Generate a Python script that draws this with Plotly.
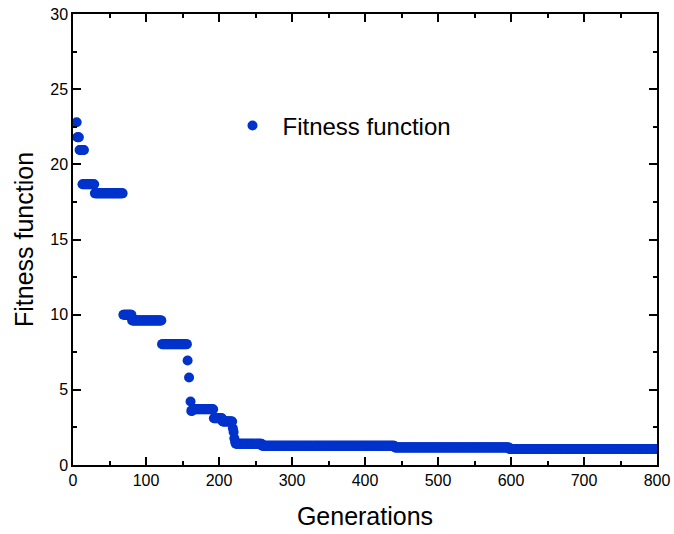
import numpy as np
import plotly.graph_objects as go

# Step runs: generation start, generation end, fitness value
run_start = [5, 6, 9, 13, 30, 69, 81, 122, 157, 159, 161, 162, 164, 193, 205, 219, 220, 221, 222, 223, 259, 441, 598]
run_end = [5, 8, 15, 29, 68, 80, 121, 156, 157, 159, 161, 163, 192, 204, 218, 219, 220, 221, 222, 258, 440, 597, 800]
run_value = [22.8, 21.8, 20.95, 18.67, 18.07, 10.0, 9.62, 8.04, 6.95, 5.82, 4.22, 3.6, 3.71, 3.11, 2.89,
             2.44, 2.2, 1.78, 1.55, 1.42, 1.28, 1.17, 1.06]

x_ticks = [0, 100, 200, 300, 400, 500, 600, 700, 800]
y_ticks = [0, 5, 10, 15, 20, 25, 30]

gens = []
vals = []
for s, e, v in zip(run_start, run_end, run_value):
    for g in range(s, e + 1):
        gens.append(g)
        vals.append(v)

BLUE = "rgb(0,51,204)"
FONT = "Liberation Sans, Arial, sans-serif"

fig = go.Figure()
fig.add_trace(go.Scatter(
    x=gens, y=vals, mode="markers", name="Fitness function",
    marker=dict(color=BLUE, size=10, line=dict(width=0)),
))

axis_common = dict(
    showline=True, linecolor="black", linewidth=1.5, mirror="allticks",
    ticks="inside", ticklen=8, tickwidth=1.5, tickcolor="black",
    showgrid=False, zeroline=False, automargin=False,
    tickfont=dict(family=FONT, size=16, color="black"),
)

fig.update_xaxes(
    range=[0, 800], tickvals=x_ticks, ticktext=[str(t) for t in x_ticks],
    minor=dict(ticks="inside", ticklen=4, tickwidth=1.5, tickcolor="black", dtick=50, tick0=0),
    title=dict(text="Generations", font=dict(family=FONT, size=25, color="black"), standoff=20),
    **axis_common,
)
fig.update_yaxes(
    range=[0, 30], tickvals=y_ticks, ticktext=[str(t) for t in y_ticks],
    minor=dict(ticks="inside", ticklen=4, tickwidth=1.5, tickcolor="black", dtick=2.5, tick0=0),
    title=dict(text="Fitness function", font=dict(family=FONT, size=25, color="black"), standoff=10),
    **axis_common,
)

fig.update_layout(
    width=674, height=534,
    margin=dict(l=73, r=17, t=14, b=69),
    paper_bgcolor="white", plot_bgcolor="white",
    showlegend=True,
    legend=dict(
        x=0.256, y=0.752, xanchor="left", yanchor="middle",
        bgcolor="rgba(0,0,0,0)", borderwidth=0, itemwidth=50,
        font=dict(family=FONT, size=24, color="black"),
    ),
)

fig.write_html("out.html", config={"displayModeBar": False},
               post_script="document.body.style.margin='0';")
